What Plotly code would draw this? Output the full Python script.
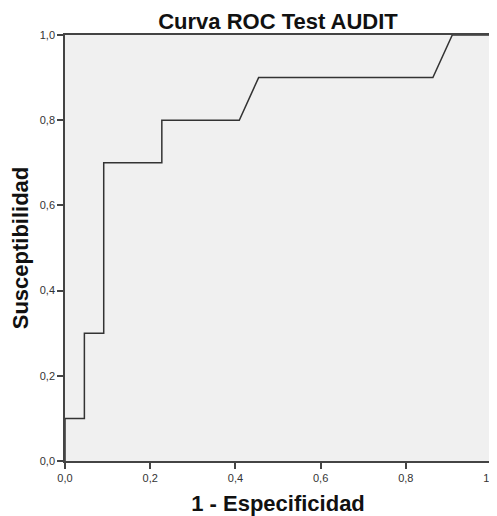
import plotly.graph_objects as go

# ROC curve points (1 - specificity, sensitivity)
fpr = [0.0, 0.0, 0.0455, 0.0455, 0.0909, 0.0909, 0.2273, 0.2273, 0.4091, 0.4545, 0.8636, 0.9091, 1.0]
tpr = [0.0, 0.1, 0.1, 0.3, 0.3, 0.7, 0.7, 0.8, 0.8, 0.9, 0.9, 1.0, 1.0]
tick_vals = [0.0, 0.2, 0.4, 0.6, 0.8, 1.0]

FONT = "Arial, Liberation Sans, sans-serif"

# page body has an 8px default margin; compensate so the figure fills the window
W, H = 489, 508

fig = go.Figure()
fig.add_trace(go.Scatter(x=fpr, y=tpr, mode="lines",
                         line=dict(color="#333333", width=1.5), showlegend=False,
                         cliponaxis=False))

axis_common = dict(range=[0, 1], tickvals=tick_vals, tickformat=".1f",
                   showgrid=False, zeroline=False, showline=True, mirror=True,
                   linecolor="#444444", linewidth=1.5, ticks="outside", ticklen=6,
                   tickcolor="#444444", tickwidth=1.5, automargin=False,
                   ticklabeloverflow="allow",
                   tickfont=dict(family=FONT, size=11, color="#333333"))

fig.update_xaxes(**axis_common,
                 title=dict(text="<b>1 - Especificidad</b>", standoff=13,
                            font=dict(family=FONT, size=22, color="#111111")))
fig.update_yaxes(**axis_common,
                 title=dict(text="<b>Susceptibilidad</b>", standoff=9,
                            font=dict(family=FONT, size=22, color="#111111")))

fig.update_layout(
    width=W, height=H,
    margin=dict(l=57, r=6, t=27, b=55),
    plot_bgcolor="#F0F0F0", paper_bgcolor="white",
    separators=",.",
    title=dict(text="<b>Curva ROC Test AUDIT</b>", x=270 / W, xanchor="center",
               y=1 - 13 / H, yanchor="middle",
               font=dict(family=FONT, size=22, color="#111111")),
)

fig.write_html("out.html")
